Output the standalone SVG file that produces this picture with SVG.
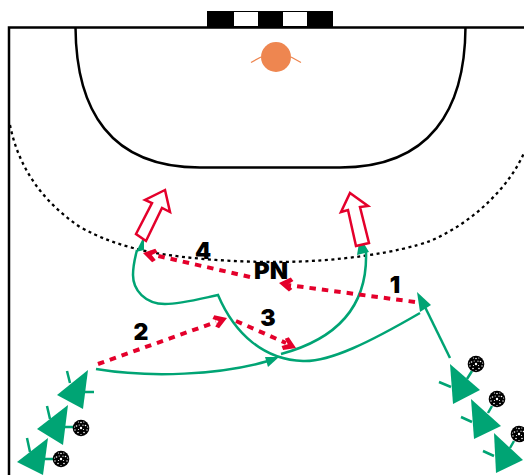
<svg xmlns="http://www.w3.org/2000/svg" width="524" height="475" viewBox="0 0 524 475">
<style>
.court{fill:none;stroke:#000;stroke-width:2.500}
.dot{fill:none;stroke:#000;stroke-width:2.300;stroke-dasharray:3 3.500}
.pl{fill:#00A474}
.tick{stroke:#00A474;stroke-width:2.500;fill:none}
.run{stroke:#00A474;stroke-width:2.500;fill:none}
.pass{stroke:#E4002B;stroke-width:4;fill:none;stroke-dasharray:6.500 6}
.head{fill:#E4002B}
.big{fill:#fff;stroke:#E4002B;stroke-width:2.500}
text{font-family:"Inter","Liberation Sans",sans-serif;font-weight:900;font-size:23px;fill:#000;text-anchor:middle}
</style>
<defs>
<g id="ball"><circle r="8.300" fill="#000"/><g fill="#fff"><circle r="1.200"/><circle cx="-4.500" cy="-2" r=".8"/><circle cx="4.500" cy="-2.500" r=".8"/><circle cx="-3" cy="4.500" r=".8"/><circle cx="3" cy="4.500" r=".8"/><circle cx="0" cy="-5.500" r=".8"/><circle cx="-6" cy="2" r=".7"/><circle cx="6" cy="2" r=".7"/><circle cx="-2.500" cy="-6" r=".6"/><circle cx="2.800" cy="-6" r=".6"/><circle cx="-6.500" cy="-1" r=".6"/><circle cx="6.600" cy="-1" r=".6"/><circle cx="0" cy="6.500" r=".6"/><circle cx="-2.500" cy="1.500" r=".6"/><circle cx="2.500" cy="1.500" r=".6"/><circle cx="-1.800" cy="-3" r=".6"/><circle cx="2" cy="-2.800" r=".6"/></g></g>
<path id="chev" d="M0,0 L11,-7 L14,-4 L9,0 L14,4 L11,7 Z" class="head"/>
</defs>
<g id="court">
<path class="court" d="M9,475 V27.500 H524"/>
<path class="court" d="M75.500,27 C76,110 110,167.500 200,167.500 H340 C430,167.500 465,110 465.500,27"/>
<path class="dot" d="M10,125 C18,165 40,200 80,227 C100,238 115,243 133,248 C170,258 230,262 275,262 C340,262 400,252 430,241 C475,222 510,185 524,153"/>
</g>
<g id="goal">
<rect x="207" y="11" width="126" height="17" fill="#000"/>
<rect x="234" y="12" width="24" height="14" fill="#fff"/>
<rect x="283" y="12" width="24" height="14" fill="#fff"/>
</g>
<g id="goalkeeper">
<path d="M251,62.500 L261,57 M291,57 L301,62.500" stroke="#EE8650" stroke-width="1.300" fill="none"/>
<circle cx="276" cy="57" r="15" fill="#EE8650"/>
</g>
<g id="connectors">
<path class="run" d="M96,369 C150,378 220,375 268,361"/>
<path class="pl" d="M279,357 L265,357 L268,367 Z"/>
<path class="run" d="M281,354 C333,340 368,310 366,252"/>
<path class="pl" d="M360,237 L357,255 L369,252 Z"/>
<path class="run" d="M420,313 C370,342 330,362 303,361 C265,360 235,335 218,295 C195,300 180,304 165,304 C145,304 133,290 133,275 C133,265 135,258 137,250"/>
<path class="pl" d="M144,236 L136,252 L144,250 Z"/>
<path class="pl" d="M417,292 L431,305 L420,312 Z"/>
<path class="run" d="M450,358 L425,307"/>
<path class="pass" d="M415,302 L288,285"/>
<use href="#chev" transform="translate(279,283) rotate(8)"/>
<path class="pass" d="M250,277 L154,255"/>
<use href="#chev" transform="translate(143,253) rotate(13)"/>
<path class="pass" d="M98,364 L216,322"/>
<use href="#chev" transform="translate(227,318) rotate(160)"/>
<path class="pass" d="M236,321 L286,343"/>
<use href="#chev" transform="translate(296,348) rotate(204)"/>
</g>
<g id="screen-left"><path class="big" d="M165,190 L145,200 L152,203 L136,234 L146,241 L162,208 L170,212 Z"/></g>
<g id="screen-right"><path class="big" d="M350,193 L368,206 L360,207 L369,243 L356,246 L348,210 L341,212 Z"/></g>
<g id="p1"><path class="tick" d="M67,371 L70,383 M85,392 H94"/><path class="pl" d="M88,370 L57,395 L83,409 Z"/></g>
<g id="p2"><path class="tick" d="M47,406 L50,419 M65,427 H75"/><path class="pl" d="M68,405 L37,429 L63,445 Z"/><use href="#ball" x="81" y="428"/></g>
<g id="p3"><path class="tick" d="M27,438 L30,452 M45,459 H55"/><path class="pl" d="M48,438 L17,462 L43,475 Z"/><use href="#ball" x="61" y="459"/></g>
<g id="p4"><path class="tick" d="M439,382 L451,387 M467,379 L472,371"/><path class="pl" d="M450,364 L480,390 L453,404 Z"/><use href="#ball" x="476" y="364"/></g>
<g id="p5"><path class="tick" d="M461,417 L472,422 M488,413 L492,406"/><path class="pl" d="M471,399 L501,426 L474,439 Z"/><use href="#ball" x="497" y="399"/></g>
<g id="p6"><path class="tick" d="M483,451 L494,456 M510,448 L514,441"/><path class="pl" d="M494,433 L523,460 L496,473 Z"/><use href="#ball" x="519" y="434"/></g>
<g id="labels">
<text x="395" y="293">1</text>
<text x="141" y="340">2</text>
<text x="268" y="326">3</text>
<text x="203" y="259">4</text>
<text x="271" y="279" textLength="34" lengthAdjust="spacingAndGlyphs">PN</text>
</g>
</svg>
